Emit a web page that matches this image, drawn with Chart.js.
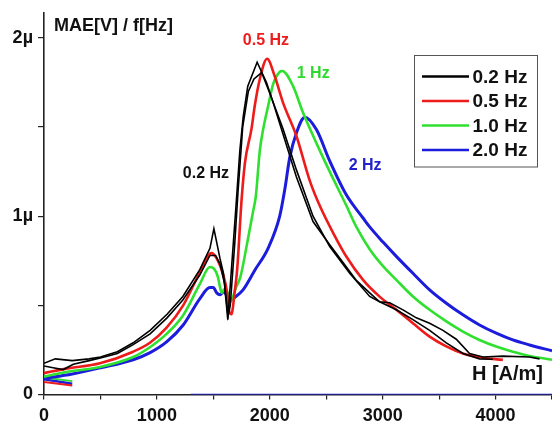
<!DOCTYPE html>
<html>
<head>
<meta charset="utf-8">
<script src="https://cdn.jsdelivr.net/npm/chart.js@4/dist/chart.umd.min.js"></script>
<style>
  html, body { margin: 0; padding: 0; background: #fff; }
  #wrap { width: 552px; height: 424px; }
</style>
</head>
<body>
<div id="wrap"><canvas id="c" width="552" height="424"></canvas></div>
<script>
// H [A/m] and MAE[V]/f[Hz] in µ units, two branches for 0.2 Hz
const h02a = [0, 100, 250, 400, 500, 650, 790, 940, 1090, 1230, 1380, 1470, 1505, 1560, 1590, 1628, 1660, 1700, 1735, 1765, 1805, 1888, 1971, 2029, 2088, 2236, 2383, 2531, 2649, 2767, 2885, 2973, 3062, 3180, 3298, 3416, 3534, 3652, 3770, 3888, 4065, 4300, 4390];
const v02a = [0.175, 0.20, 0.19, 0.20, 0.21, 0.24, 0.29, 0.36, 0.45, 0.55, 0.70, 0.82, 0.93, 0.76, 0.68, 0.42, 0.70, 1.05, 1.37, 1.56, 1.73, 1.864, 1.75, 1.64, 1.52, 1.22, 0.97, 0.84, 0.74, 0.64, 0.57, 0.52, 0.515, 0.475, 0.43, 0.40, 0.36, 0.31, 0.23, 0.21, 0.215, 0.21, 0.20];
const h02b = [0, 80, 170, 260, 400, 500, 650, 790, 940, 1090, 1230, 1380, 1470, 1520, 1560, 1600, 1630, 1650, 1690, 1720, 1760, 1810, 1860, 1928, 2000, 2117, 2236, 2383, 2531, 2708, 2885, 2973, 3121, 3268, 3416, 3564, 3711, 3858, 3976];
const v02b = [0.16, 0.15, 0.14, 0.17, 0.19, 0.205, 0.23, 0.28, 0.34, 0.43, 0.53, 0.67, 0.78, 0.78, 0.73, 0.62, 0.44, 0.50, 0.85, 1.15, 1.50, 1.70, 1.77, 1.806, 1.69, 1.49, 1.26, 1.00, 0.83, 0.68, 0.55, 0.52, 0.475, 0.42, 0.36, 0.29, 0.23, 0.20, 0.198];

const h05 = [0, 200, 496, 790, 938, 1086, 1233, 1381, 1484, 1528, 1588, 1620, 1640, 1660, 1690, 1711, 1750, 1780, 1838, 1867, 1912, 1976, 2044, 2118, 2236, 2354, 2442, 2575, 2678, 2826, 2973, 3121, 3268, 3416, 3564, 3711, 3858, 4065];
const v05 = [0.12, 0.145, 0.175, 0.24, 0.29, 0.375, 0.50, 0.685, 0.793, 0.765, 0.67, 0.58, 0.47, 0.45, 0.58, 0.70, 1.09, 1.30, 1.49, 1.62, 1.77, 1.883, 1.785, 1.636, 1.45, 1.20, 1.06, 0.89, 0.774, 0.643, 0.549, 0.475, 0.40, 0.325, 0.27, 0.23, 0.209, 0.194];

const h10 = [0, 200, 496, 790, 938, 1086, 1233, 1381, 1469, 1513, 1540, 1560, 1575, 1595, 1622, 1652, 1700, 1740, 1800, 1853, 1876, 1912, 1941, 1985, 2029, 2088, 2110, 2206, 2295, 2413, 2531, 2678, 2767, 2885, 3003, 3121, 3268, 3416, 3564, 3711, 3858, 4006, 4153, 4301, 4500];
const v10 = [0.10, 0.126, 0.154, 0.21, 0.265, 0.34, 0.445, 0.62, 0.715, 0.70, 0.66, 0.60, 0.57, 0.59, 0.58, 0.52, 0.60, 0.66, 0.85, 1.03, 1.11, 1.37, 1.486, 1.617, 1.74, 1.81, 1.815, 1.73, 1.58, 1.41, 1.25, 1.06, 0.94, 0.815, 0.72, 0.643, 0.55, 0.475, 0.41, 0.353, 0.306, 0.269, 0.24, 0.216, 0.195];

const h20 = [0, 250, 500, 790, 940, 1086, 1233, 1381, 1469, 1500, 1530, 1560, 1590, 1646, 1700, 1763, 1870, 1985, 2088, 2133, 2177, 2236, 2310, 2413, 2531, 2678, 2826, 2885, 3003, 3121, 3268, 3416, 3564, 3711, 3858, 4006, 4153, 4301, 4500];
const v20 = [0.09, 0.115, 0.15, 0.195, 0.235, 0.295, 0.39, 0.538, 0.60, 0.60, 0.57, 0.56, 0.576, 0.531, 0.55, 0.587, 0.70, 0.82, 1.00, 1.15, 1.33, 1.467, 1.555, 1.486, 1.31, 1.12, 0.99, 0.94, 0.855, 0.775, 0.68, 0.587, 0.512, 0.447, 0.39, 0.344, 0.306, 0.278, 0.245];

// short low segments at the start and flat trace along zero
const hStub = [0, 250];
const vStub05 = [0.07, 0.05];
const vStub10 = [0.095, 0.075];
const vStub20 = [0.085, 0.06];
const hZero = [1300, 4500];
const vZero = [0, 0];

const seriesNames = ['0.2 Hz', '0.5 Hz', '1.0 Hz', '2.0 Hz'];
const curveLabels = ['0.2 Hz', '0.5 Hz', '1 Hz', '2 Hz'];
const curveLabelAt = [[1230, 1.24], [1761, 1.986], [2239, 1.80], [2699, 1.284]];
const xTicks = [0, 1000, 2000, 3000, 4000];
const yTicks = [0, 1, 2];

const colors = ['#000000', '#ee1b1b', '#2fe02f', '#1c1cdc'];
const labelColors = ['#111111', '#ee1b1b', '#2fd82f', '#2222cc'];

const pts = (hs, vs) => hs.map((h, i) => ({x: h, y: vs[i]}));

const datasets = [
  {label: seriesNames[0], data: pts(h02a, v02a), borderColor: colors[0], borderWidth: 1.6, tension: 0},
  {label: '_b', data: pts(h02b, v02b), borderColor: colors[0], borderWidth: 1.6, tension: 0},
  {label: seriesNames[1], data: pts(h05, v05), borderColor: colors[1], borderWidth: 2.6, cubicInterpolationMode: 'monotone'},
  {label: seriesNames[2], data: pts(h10, v10), borderColor: colors[2], borderWidth: 2.6, cubicInterpolationMode: 'monotone'},
  {label: seriesNames[3], data: pts(h20, v20), borderColor: colors[3], borderWidth: 3, cubicInterpolationMode: 'monotone'},
  {label: '_s1', data: pts(hStub, vStub05), borderColor: colors[1], borderWidth: 2},
  {label: '_s2', data: pts(hStub, vStub10), borderColor: colors[2], borderWidth: 2},
  {label: '_s3', data: pts(hStub, vStub20), borderColor: colors[3], borderWidth: 2.5},
  {label: '_z', data: pts(hZero, vZero), borderColor: colors[3], borderWidth: 1.5}
].map(d => Object.assign({pointRadius: 0, fill: false}, d));

const FONT = '"Liberation Sans", Arial, sans-serif';

const annot = {
  id: 'annot',
  afterDatasetsDraw(chart) {
    const {ctx, chartArea: a, scales: {x, y}} = chart;
    ctx.save();
    ctx.textBaseline = 'middle';
    ctx.textAlign = 'left';
    ctx.font = 'bold 16px ' + FONT;
    curveLabels.forEach((t, i) => {
      ctx.fillStyle = labelColors[i];
      ctx.fillText(t, x.getPixelForValue(curveLabelAt[i][0]), y.getPixelForValue(curveLabelAt[i][1]));
    });
    ctx.fillStyle = '#111';
    ctx.font = 'bold 18px ' + FONT;
    ctx.fillText('MAE[V] / f[Hz]', a.left + 10, a.top + 13);
    ctx.font = 'bold 20px ' + FONT;
    ctx.textAlign = 'right';
    ctx.fillText('H [A/m]', a.right - 9, a.bottom - 20);
    const bx = a.left + 370.5, by = a.top + 42.5, bw = 123, bh = 111.5;
    ctx.fillStyle = '#fff';
    ctx.fillRect(bx, by, bw, bh);
    ctx.strokeStyle = '#555';
    ctx.lineWidth = 1;
    ctx.strokeRect(bx, by, bw, bh);
    ctx.font = 'bold 19px ' + FONT;
    ctx.textAlign = 'left';
    seriesNames.forEach((t, i) => {
      const yy = by + 21 + i * 24.5;
      ctx.strokeStyle = colors[i];
      ctx.lineWidth = 2.5;
      ctx.beginPath();
      ctx.moveTo(bx + 7.5, yy);
      ctx.lineTo(bx + 54.5, yy);
      ctx.stroke();
      ctx.fillStyle = '#111';
      ctx.fillText(t, bx + 58, yy + 1);
    });
    ctx.restore();
  }
};

new Chart(document.getElementById('c'), {
  type: 'line',
  data: {datasets},
  options: {
    responsive: false,
    animation: false,
    layout: {padding: {top: 13, right: 0, left: 0, bottom: 0}},
    plugins: {legend: {display: false}, tooltip: {enabled: false}},
    scales: {
      x: {
        type: 'linear', min: 0, max: 4500,
        afterFit: s => { s.height = 29.5; s.paddingLeft = 0; s.paddingRight = 0; },
        grid: {display: true, drawOnChartArea: false, drawTicks: true, tickLength: 5, color: '#222', lineWidth: 1.2},
        border: {display: true, color: '#222', width: 1.6},
        ticks: {
          stepSize: 500, autoSkip: false, includeBounds: false, maxRotation: 0, padding: 6,
          color: '#111', font: {family: FONT, size: 18, weight: 'bold'},
          callback: v => xTicks.includes(v) ? String(v) : ''
        }
      },
      y: {
        type: 'linear', min: 0, max: 2.14,
        afterFit: s => { s.width = 44; s.paddingTop = 0; s.paddingBottom = 0; },
        grid: {display: true, drawOnChartArea: false, drawTicks: true, tickLength: 6, color: '#222', lineWidth: 1.2},
        border: {display: true, color: '#222', width: 1.6},
        ticks: {
          stepSize: 0.5, autoSkip: false, includeBounds: false, padding: 5,
          color: '#111', font: {family: FONT, size: 18, weight: 'bold'},
          callback: v => yTicks.includes(v) ? (v === 0 ? '0' : v + 'µ') : ''
        }
      }
    }
  },
  plugins: [annot]
});
</script>
</body>
</html>
